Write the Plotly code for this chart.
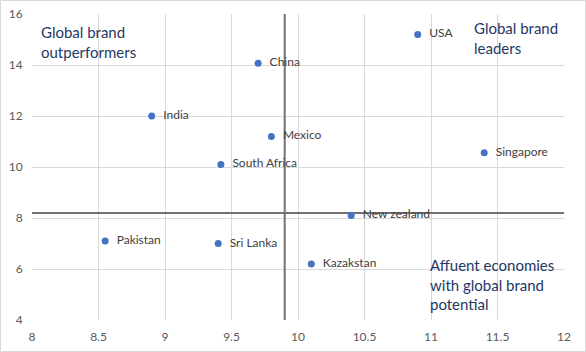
import plotly.graph_objects as go

countries = ["USA", "China", "India", "Mexico", "South Africa", "Singapore",
             "New zealand", "Kazakstan", "Pakistan", "Sri Lanka"]
x_vals = [10.9, 9.7, 8.9, 9.8, 9.42, 11.4, 10.4, 10.1, 8.55, 9.4]
y_vals = [15.2, 14.07, 12.0, 11.2, 10.1, 10.56, 8.1, 6.2, 7.1, 7.0]

ref_x = 9.9   # vertical divider
ref_y = 8.2   # horizontal divider
x_range = [8, 12]
y_range = [4, 16]
x_ticks = [8, 8.5, 9, 9.5, 10, 10.5, 11, 11.5, 12]
y_ticks = [4, 6, 8, 10, 12, 14, 16]

FONT = "Lato, 'Open Sans', sans-serif"
LINE = "#767171"

fig = go.Figure()

fig.add_trace(go.Scatter(x=[ref_x, ref_x], y=y_range, mode="lines",
                         line=dict(color=LINE, width=2), hoverinfo="skip", showlegend=False))
fig.add_trace(go.Scatter(x=x_range, y=[ref_y, ref_y], mode="lines",
                         line=dict(color=LINE, width=2), hoverinfo="skip", showlegend=False))

fig.add_trace(go.Scatter(
    x=x_vals, y=y_vals, mode="markers+text", text=countries,
    texttemplate="\u00a0\u00a0%{text}",
    textposition="middle right",
    textfont=dict(family=FONT, size=12, color="#404040"),
    marker=dict(color="#4472C4", size=7),
    showlegend=False, cliponaxis=False,
))

fig.update_layout(
    width=586, height=352,
    margin=dict(l=32, r=22, t=14, b=32),
    paper_bgcolor="white", plot_bgcolor="white",
    font=dict(family=FONT),
)
fig.update_xaxes(range=x_range, tickvals=x_ticks, ticktext=[f"{v:g}" for v in x_ticks],
                 showgrid=True, gridcolor="#D9D9D9", gridwidth=1, zeroline=False,
                 showline=False, ticks="outside", ticklen=6, tickcolor="rgba(0,0,0,0)",
                 automargin=False, tickfont=dict(size=12, color="#595959"))
fig.update_yaxes(range=y_range, tickvals=y_ticks,
                 showgrid=True, gridcolor="#D9D9D9", gridwidth=1, zeroline=False,
                 showline=False, ticks="outside", ticklen=6, tickcolor="rgba(0,0,0,0)",
                 automargin=False, tickfont=dict(size=12, color="#595959"))

QCOL = "#1F3864"
fig.add_annotation(x=(39 - 32) / 532, y=(320 - 20.5) / 306, xref="paper", yref="paper",
                   xanchor="left", yanchor="top", align="left",
                   text="Global brand<br>outperformers", showarrow=False,
                   font=dict(family=FONT, size=15, color=QCOL))
fig.add_annotation(x=(472 - 32) / 532, y=(320 - 17.5) / 306, xref="paper", yref="paper",
                   xanchor="left", yanchor="top", align="left",
                   text="Global brand<br>leaders", showarrow=False,
                   font=dict(family=FONT, size=15, color=QCOL))
fig.add_annotation(x=(428 - 32) / 532, y=(320 - 254) / 306, xref="paper", yref="paper",
                   xanchor="left", yanchor="top", align="left",
                   text="Affuent economies<br>with global brand<br>potential", showarrow=False,
                   font=dict(family=FONT, size=15, color=QCOL))

# outer chart border
fig.add_shape(type="rect", xref="paper", yref="paper",
              x0=(0.5 - 32) / 532, x1=(585.5 - 32) / 532,
              y0=(320 - 351.5) / 306, y1=(320 - 0.5) / 306,
              line=dict(color="#D9D9D9", width=1), layer="below")

fig.write_html("out.html")
